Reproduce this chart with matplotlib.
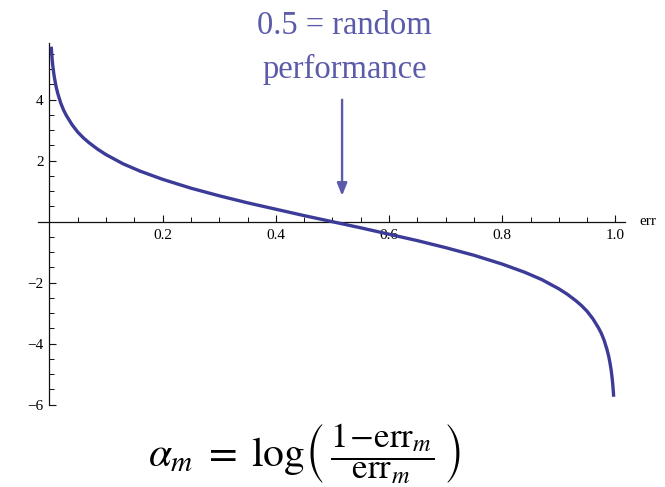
import matplotlib
matplotlib.use("Agg")
import matplotlib.pyplot as plt
from matplotlib.ticker import FixedLocator, MultipleLocator

plt.rcParams['font.family'] = ['Liberation Serif', 'DejaVu Serif']
plt.rcParams['mathtext.fontset'] = 'stix'

# curve samples (err, alpha)
err = [0.0032, 0.0036, 0.004, 0.0045, 0.005, 0.006, 0.007, 0.008, 0.01, 0.012,
       0.015, 0.02, 0.025, 0.03, 0.04, 0.05, 0.06, 0.07, 0.085,
       0.10, 0.13, 0.16, 0.20, 0.25, 0.30, 0.35, 0.40, 0.45, 0.50,
       0.55, 0.60, 0.65, 0.70, 0.75, 0.80, 0.84, 0.87, 0.90, 0.915, 0.93,
       0.94, 0.95, 0.96, 0.97, 0.975, 0.98, 0.985, 0.988, 0.99, 0.992,
       0.993, 0.994, 0.995, 0.9955, 0.996, 0.9964, 0.9968]
alpha = [5.74, 5.62, 5.52, 5.40, 5.29, 5.11, 4.96, 4.82, 4.60, 4.41,
         4.19, 3.89, 3.66, 3.48, 3.18, 2.94, 2.75, 2.59, 2.38,
         2.20, 1.90, 1.66, 1.39, 1.10, 0.85, 0.62, 0.41, 0.20, 0.00,
         -0.20, -0.41, -0.62, -0.85, -1.10, -1.39, -1.66, -1.90, -2.20, -2.38, -2.59,
         -2.75, -2.94, -3.18, -3.48, -3.66, -3.89, -4.19, -4.41, -4.60, -4.82,
         -4.96, -5.11, -5.29, -5.40, -5.52, -5.62, -5.74]

x_major = [0.2, 0.4, 0.6, 0.8, 1.0]
x_labels = ["0.2", "0.4", "0.6", "0.8", "1.0"]
y_major = [-6, -4, -2, 2, 4]
y_labels = ["\u22126", "\u22124", "\u22122", "2", "4"]

annot_text = "0.5 = random\nperformance"
formula_lhs = r"$\alpha_m\;=\;\log$"
formula_frac = r"$\left(\;\dfrac{1\!-\!\mathrm{err}_m}{\mathrm{err}_m}\;\right)$"

curve_color = "#3c3c98"
annot_color = "#5b5baa"

fig = plt.figure(figsize=(6.65, 4.87), dpi=100)
ax = fig.add_axes([0.0573, 0.169, 0.8827, 0.7433])
ax.set_xlim(-0.02, 1.017)
ax.set_ylim(-6, 5.87)

ax.plot(err, alpha, color=curve_color, lw=2.4, solid_capstyle='butt', zorder=3)

for s in ['top', 'right']:
    ax.spines[s].set_visible(False)
ax.spines['left'].set_position(('data', 0))
ax.spines['bottom'].set_position(('data', 0))
for s in ['left', 'bottom']:
    ax.spines[s].set_linewidth(0.9)
    ax.spines[s].set_color('#111111')

ax.xaxis.set_major_locator(FixedLocator(x_major))
ax.set_xticklabels(x_labels)
ax.xaxis.set_minor_locator(MultipleLocator(0.05))
ax.yaxis.set_major_locator(FixedLocator(y_major))
ax.set_yticklabels(y_labels)
ax.yaxis.set_minor_locator(MultipleLocator(0.5))

ax.tick_params(which='major', direction='in', length=5, width=0.8, color='#111111',
               labelsize=11, pad=4)
ax.tick_params(which='minor', direction='in', length=3.3, width=0.7, color='#111111')
ax.tick_params(axis='x', which='major', pad=5)

ax.text(1.058, 0.0, "err", fontsize=11, ha='center', va='center', clip_on=False)

ax.annotate("", xy=(0.517, 0.85), xytext=(0.517, 4.0),
            arrowprops=dict(arrowstyle='-|>,head_length=0.75,head_width=0.3',
                            color=annot_color, lw=1.7, shrinkA=0, shrinkB=0))
fig.text(0.518, 0.979, annot_text, color=annot_color, fontsize=23.5, ha='center', va='top',
         linespacing=1.55)

fig.text(0.4586, 0.044, formula_lhs, fontsize=30, ha='right', va='baseline')
fig.text(0.4586, 0.044, formula_frac, fontsize=25, ha='left', va='baseline')

fig.savefig("out.png", dpi=100)
